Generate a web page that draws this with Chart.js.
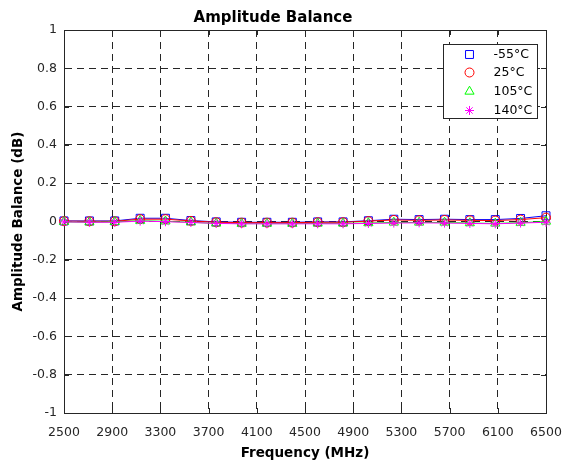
<!DOCTYPE html>
<html>
<head>
<meta charset="utf-8">
<script src="https://cdn.jsdelivr.net/npm/chart.js@4/dist/chart.umd.min.js"></script>
<style>
  html, body { margin: 0; padding: 0; background: #fff; }
  #plot { display: block; }
</style>
</head>
<body>
<canvas id="plot" width="566" height="466"></canvas>
<script>
// frecuencias (MHz) de los marcadores
const freqs = [2500, 2711, 2921, 3132, 3342, 3553, 3763, 3974, 4184, 4395,
               4605, 4816, 5026, 5237, 5447, 5658, 5868, 6079, 6289, 6500];

// balance de amplitud (dB) por temperatura
const balM55 = [0.003, 0.003, 0.003, 0.017, 0.017, 0.005, -0.002, -0.004, -0.004, -0.004,
                -0.002, -0.002, 0.004, 0.012, 0.010, 0.012, 0.010, 0.010, 0.016, 0.030];
const bal25  = [0.002, 0.001, 0.001, 0.012, 0.012, 0.003, -0.004, -0.006, -0.006, -0.006,
                -0.004, -0.004, 0.002, 0.008, 0.006, 0.008, 0.006, 0.005, 0.010, 0.020];
const bal105 = [-0.002, -0.004, -0.002, 0.004, 0.001, -0.004, -0.010, -0.011, -0.011, -0.011,
                -0.010, -0.010, -0.008, -0.005, -0.005, -0.005, -0.008, -0.010, -0.006, 0.000];
const bal140 = [-0.002, -0.004, -0.004, 0.002, -0.001, -0.005, -0.010, -0.012, -0.012, -0.012,
                -0.012, -0.012, -0.010, -0.008, -0.007, -0.008, -0.010, -0.012, -0.008, -0.004];

const seriesLabels = ['-55°C', '25°C', '105°C', '140°C'];
const xTickStep = 400;
const yTickStep = 0.2;

const AXIS = '#262626';
const FONT = 'DejaVu Sans';

function serie(label, values, color, style, radius, order) {
    return {
        label: label,
        data: freqs.map((f, i) => ({ x: f, y: values[i] })),
        borderColor: color,
        backgroundColor: 'rgba(0,0,0,0)',
        borderWidth: 1,
        pointStyle: style,
        pointRadius: radius,
        pointBorderWidth: 1,
        pointBorderColor: color,
        pointBackgroundColor: 'rgba(0,0,0,0)',
        tension: 0,
        clip: false,
        order: order
    };
}

const datasets = [
    serie(seriesLabels[0], balM55, '#0000ff', 'rect', 5.6, 4),
    serie(seriesLabels[1], bal25, '#ff0000', 'circle', 4.5, 3),
    serie(seriesLabels[2], bal105, '#00ff00', 'triangle', 5.3, 2),
    serie(seriesLabels[3], bal140, '#ff00ff', 'star', 4.5, 1)
];

// caja de ejes + marcas interiores (estilo MATLAB)
const cajaEjes = {
    id: 'cajaEjes',
    beforeDatasetsDraw(chart) {
        const { ctx, chartArea: a, scales } = chart;
        ctx.save();
        ctx.strokeStyle = AXIS;
        ctx.lineWidth = 1;
        ctx.setLineDash([]);
        ctx.strokeRect(Math.round(a.left) + 0.5, Math.round(a.top) + 0.5,
                       Math.round(a.right - a.left), Math.round(a.bottom - a.top));
        const len = 5;
        ctx.beginPath();
        scales.x.ticks.forEach(t => {
            const px = Math.round(scales.x.getPixelForValue(t.value)) + 0.5;
            ctx.moveTo(px, a.bottom); ctx.lineTo(px, a.bottom - len);
            ctx.moveTo(px, a.top); ctx.lineTo(px, a.top + len);
        });
        scales.y.ticks.forEach(t => {
            const py = Math.round(scales.y.getPixelForValue(t.value)) + 0.5;
            ctx.moveTo(a.left, py); ctx.lineTo(a.left + len, py);
            ctx.moveTo(a.right, py); ctx.lineTo(a.right - len, py);
        });
        ctx.stroke();
        ctx.restore();
    }
};

// leyenda dentro del area, arriba a la derecha
const leyenda = {
    id: 'leyenda',
    afterDraw(chart) {
        const { ctx, chartArea: a } = chart;
        const w = 94, h = 74;
        const x0 = Math.round(a.right - 9 - w) + 0.5;
        const y0 = Math.round(a.top + 14) + 0.5;
        ctx.save();
        ctx.fillStyle = '#ffffff';
        ctx.fillRect(x0, y0, w, h);
        ctx.strokeStyle = AXIS;
        ctx.lineWidth = 1;
        ctx.strokeRect(x0, y0, w, h);
        ctx.font = '12.5px "' + FONT + '"';
        ctx.textBaseline = 'middle';
        ctx.textAlign = 'left';
        chart.data.datasets.forEach((ds, i) => {
            const cy = Math.round(y0 + 9 + i * 18.7) + 0.5;
            ctx.strokeStyle = ds.pointBorderColor;
            ctx.fillStyle = 'rgba(0,0,0,0)';
            ctx.lineWidth = 1;
            if (Chart.helpers && Chart.helpers.drawPoint) {
                Chart.helpers.drawPoint(ctx, {
                    pointStyle: ds.pointStyle, radius: ds.pointRadius,
                    rotation: 0, borderWidth: 1
                }, x0 + 26, cy);
            }
            ctx.fillStyle = '#000000';
            ctx.fillText(ds.label, x0 + 50, cy);
        });
        ctx.restore();
    }
};

new Chart(document.getElementById('plot').getContext('2d'), {
    type: 'line',
    data: { datasets },
    plugins: [cajaEjes, leyenda],
    options: {
        responsive: false,
        animation: false,
        devicePixelRatio: 1,
        layout: { padding: { left: 0, right: 20, top: 0, bottom: 0 } },
        plugins: {
            legend: { display: false },
            tooltip: { enabled: false },
            title: {
                display: true,
                text: 'Amplitude Balance',
                color: '#000000',
                font: { family: FONT, size: 15, weight: 'bold' },
                padding: { top: 9, bottom: 3 }
            }
        },
        scales: {
            x: {
                type: 'linear',
                min: 2500,
                max: 6500,
                afterFit: s => { s.height = 53; s.paddingLeft = 0; s.paddingRight = 0; },
                ticks: {
                    stepSize: xTickStep,
                    padding: 12,
                    color: AXIS,
                    maxRotation: 0,
                    autoSkip: false,
                    font: { family: FONT, size: 12.5 },
                    callback: v => String(v)
                },
                grid: { color: AXIS, lineWidth: 1, drawTicks: false },
                border: { display: true, color: AXIS, width: 1, dash: [7, 5] },
                title: {
                    display: true,
                    text: 'Frequency (MHz)',
                    color: '#000000',
                    font: { family: FONT, size: 13.5, weight: 'bold' },
                    padding: { top: 0, bottom: 4 }
                }
            },
            y: {
                type: 'linear',
                min: -1,
                max: 1,
                afterFit: s => { s.width = 64; s.paddingTop = 0; s.paddingBottom = 0; },
                ticks: {
                    stepSize: yTickStep,
                    padding: 7,
                    color: AXIS,
                    autoSkip: false,
                    font: { family: FONT, size: 12.5 },
                    callback: v => String(parseFloat(v.toFixed(1)))
                },
                grid: { color: AXIS, lineWidth: 1, drawTicks: false },
                border: { display: true, color: AXIS, width: 1, dash: [7, 5] },
                title: {
                    display: true,
                    text: 'Amplitude Balance (dB)',
                    color: '#000000',
                    font: { family: FONT, size: 13.5, weight: 'bold' },
                    padding: { top: 10, bottom: 0 }
                }
            }
        }
    }
});
</script>
</body>
</html>
